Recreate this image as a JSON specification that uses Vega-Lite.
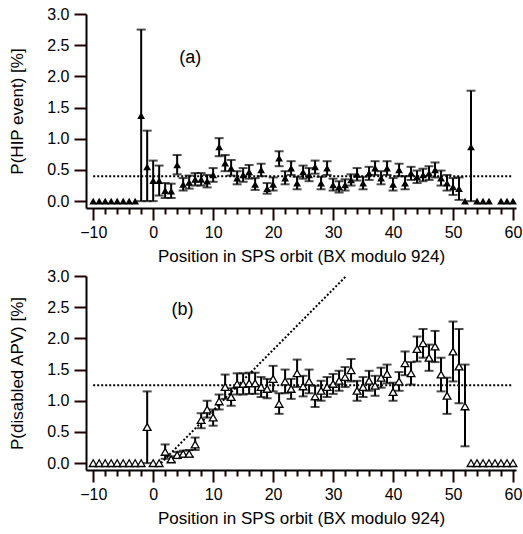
{
  "$schema": "https://vega.github.io/schema/vega-lite/v6.json",
  "padding": {"left": 8, "top": 6, "right": 5, "bottom": 5},
  "spacing": 4,
  "background": "white",
  "config": {
    "view": {"stroke": null},
    "font": "Liberation Sans",
    "axis": {
      "domainColor": "black", "domainWidth": 2, "tickColor": "#220000", "tickWidth": 2, "ticks": true, "tickOpacity": 1,
      "labelColor": "black", "titleColor": "black", "labelFontSize": 16, "titleFontSize": 17,
      "titleFontWeight": "normal", "grid": false, "labelFont": "Liberation Sans", "titleFont": "Liberation Sans", "labelOverlap": false
    }
  },
  "datasets": {
    "a": [
      {"x": -10, "v": 0}, {"x": -9, "v": 0}, {"x": -8, "v": 0}, {"x": -7, "v": 0}, {"x": -6, "v": 0}, {"x": -5, "v": 0}, {"x": -4, "v": 0}, {"x": -3, "v": 0},
      {"x": -2, "v": 1.37, "lo": 0, "hi": 2.75},
      {"x": -1, "v": 0.55, "lo": 0, "hi": 1.13},
      {"x": 0, "v": 0.33, "lo": 0, "hi": 0.65},
      {"x": 1, "v": 0.33, "lo": 0.09, "hi": 0.57},
      {"x": 2, "v": 0.17, "lo": 0.05, "hi": 0.29},
      {"x": 3, "v": 0.16, "lo": 0.05, "hi": 0.28},
      {"x": 4, "v": 0.58, "lo": 0.43, "hi": 0.74},
      {"x": 5, "v": 0.27, "lo": 0.17, "hi": 0.37},
      {"x": 6, "v": 0.30, "lo": 0.20, "hi": 0.41},
      {"x": 7, "v": 0.35, "lo": 0.25, "hi": 0.45},
      {"x": 8, "v": 0.35, "lo": 0.25, "hi": 0.45},
      {"x": 9, "v": 0.32, "lo": 0.22, "hi": 0.42},
      {"x": 10, "v": 0.42, "lo": 0.31, "hi": 0.53},
      {"x": 11, "v": 0.87, "lo": 0.72, "hi": 1.01},
      {"x": 12, "v": 0.61, "lo": 0.48, "hi": 0.74},
      {"x": 13, "v": 0.53, "lo": 0.41, "hi": 0.66},
      {"x": 14, "v": 0.37, "lo": 0.27, "hi": 0.48},
      {"x": 15, "v": 0.42, "lo": 0.31, "hi": 0.53},
      {"x": 16, "v": 0.47, "lo": 0.36, "hi": 0.58},
      {"x": 17, "v": 0.27, "lo": 0.18, "hi": 0.37},
      {"x": 18, "v": 0.50, "lo": 0.40, "hi": 0.60},
      {"x": 19, "v": 0.20, "lo": 0.12, "hi": 0.29},
      {"x": 20, "v": 0.27, "lo": 0.17, "hi": 0.38},
      {"x": 21, "v": 0.69, "lo": 0.56, "hi": 0.80},
      {"x": 22, "v": 0.37, "lo": 0.27, "hi": 0.48},
      {"x": 23, "v": 0.53, "lo": 0.42, "hi": 0.64},
      {"x": 24, "v": 0.29, "lo": 0.19, "hi": 0.39},
      {"x": 25, "v": 0.47, "lo": 0.36, "hi": 0.57},
      {"x": 26, "v": 0.42, "lo": 0.32, "hi": 0.53},
      {"x": 27, "v": 0.55, "lo": 0.44, "hi": 0.65},
      {"x": 28, "v": 0.29, "lo": 0.19, "hi": 0.39},
      {"x": 29, "v": 0.53, "lo": 0.42, "hi": 0.64},
      {"x": 30, "v": 0.26, "lo": 0.17, "hi": 0.36},
      {"x": 31, "v": 0.23, "lo": 0.14, "hi": 0.32},
      {"x": 32, "v": 0.26, "lo": 0.17, "hi": 0.35},
      {"x": 33, "v": 0.34, "lo": 0.25, "hi": 0.43},
      {"x": 34, "v": 0.43, "lo": 0.33, "hi": 0.53},
      {"x": 35, "v": 0.29, "lo": 0.19, "hi": 0.39},
      {"x": 36, "v": 0.45, "lo": 0.34, "hi": 0.55},
      {"x": 37, "v": 0.53, "lo": 0.42, "hi": 0.64},
      {"x": 38, "v": 0.37, "lo": 0.27, "hi": 0.48},
      {"x": 39, "v": 0.53, "lo": 0.42, "hi": 0.64},
      {"x": 40, "v": 0.27, "lo": 0.17, "hi": 0.37},
      {"x": 41, "v": 0.50, "lo": 0.40, "hi": 0.60},
      {"x": 42, "v": 0.29, "lo": 0.19, "hi": 0.40},
      {"x": 43, "v": 0.45, "lo": 0.34, "hi": 0.55},
      {"x": 44, "v": 0.39, "lo": 0.29, "hi": 0.49},
      {"x": 45, "v": 0.42, "lo": 0.32, "hi": 0.52},
      {"x": 46, "v": 0.45, "lo": 0.34, "hi": 0.56},
      {"x": 47, "v": 0.50, "lo": 0.38, "hi": 0.62},
      {"x": 48, "v": 0.37, "lo": 0.25, "hi": 0.49},
      {"x": 49, "v": 0.29, "lo": 0.17, "hi": 0.42},
      {"x": 50, "v": 0.23, "lo": 0.10, "hi": 0.37},
      {"x": 51, "v": 0.20, "lo": 0.02, "hi": 0.38},
      {"x": 52, "v": 0},
      {"x": 53, "v": 0.87, "lo": 0, "hi": 1.77},
      {"x": 54, "v": 0}, {"x": 55, "v": 0}, {"x": 56, "v": 0}, {"x": 58, "v": 0}, {"x": 59, "v": 0}, {"x": 60, "v": 0}
    ],
    "b": [
      {"x": -10, "v": 0}, {"x": -9, "v": 0}, {"x": -8, "v": 0}, {"x": -7, "v": 0}, {"x": -6, "v": 0}, {"x": -5, "v": 0}, {"x": -4, "v": 0}, {"x": -3, "v": 0}, {"x": -2, "v": 0},
      {"x": -1, "v": 0.58, "lo": 0, "hi": 1.15},
      {"x": 0, "v": 0}, {"x": 1, "v": 0},
      {"x": 2, "v": 0.18, "lo": 0.07, "hi": 0.30},
      {"x": 3, "v": 0.06, "lo": 0.02, "hi": 0.11},
      {"x": 4, "v": 0.13, "lo": 0.08, "hi": 0.18},
      {"x": 5, "v": 0.15, "lo": 0.10, "hi": 0.20},
      {"x": 6, "v": 0.15, "lo": 0.10, "hi": 0.21},
      {"x": 7, "v": 0.30, "lo": 0.21, "hi": 0.41},
      {"x": 8, "v": 0.69, "lo": 0.56, "hi": 0.80},
      {"x": 9, "v": 0.86, "lo": 0.73, "hi": 1.00},
      {"x": 10, "v": 0.73, "lo": 0.60, "hi": 0.86},
      {"x": 11, "v": 0.99, "lo": 0.86, "hi": 1.10},
      {"x": 12, "v": 1.22, "lo": 1.03, "hi": 1.42},
      {"x": 13, "v": 1.06, "lo": 0.92, "hi": 1.20},
      {"x": 14, "v": 1.27, "lo": 1.10, "hi": 1.44},
      {"x": 15, "v": 1.27, "lo": 1.10, "hi": 1.44},
      {"x": 16, "v": 1.28, "lo": 1.11, "hi": 1.45},
      {"x": 17, "v": 1.28, "lo": 1.11, "hi": 1.45},
      {"x": 18, "v": 1.22, "lo": 1.06, "hi": 1.38},
      {"x": 19, "v": 1.19, "lo": 1.04, "hi": 1.35},
      {"x": 20, "v": 1.35, "lo": 1.15, "hi": 1.56},
      {"x": 21, "v": 0.95, "lo": 0.79, "hi": 1.12},
      {"x": 22, "v": 1.31, "lo": 1.12, "hi": 1.50},
      {"x": 23, "v": 1.19, "lo": 1.03, "hi": 1.35},
      {"x": 24, "v": 1.44, "lo": 1.22, "hi": 1.66},
      {"x": 25, "v": 1.23, "lo": 1.07, "hi": 1.40},
      {"x": 26, "v": 1.31, "lo": 1.12, "hi": 1.50},
      {"x": 27, "v": 1.07, "lo": 0.90, "hi": 1.24},
      {"x": 28, "v": 1.16, "lo": 1.00, "hi": 1.32},
      {"x": 29, "v": 1.22, "lo": 1.06, "hi": 1.38},
      {"x": 30, "v": 1.27, "lo": 1.11, "hi": 1.43},
      {"x": 31, "v": 1.32, "lo": 1.16, "hi": 1.48},
      {"x": 32, "v": 1.38, "lo": 1.22, "hi": 1.54},
      {"x": 33, "v": 1.49, "lo": 1.31, "hi": 1.67},
      {"x": 34, "v": 1.16, "lo": 1.00, "hi": 1.32},
      {"x": 35, "v": 1.22, "lo": 1.06, "hi": 1.38},
      {"x": 36, "v": 1.32, "lo": 1.16, "hi": 1.48},
      {"x": 37, "v": 1.24, "lo": 1.08, "hi": 1.40},
      {"x": 38, "v": 1.37, "lo": 1.21, "hi": 1.53},
      {"x": 39, "v": 1.43, "lo": 1.28, "hi": 1.58},
      {"x": 40, "v": 1.14, "lo": 1.00, "hi": 1.29},
      {"x": 41, "v": 1.31, "lo": 1.16, "hi": 1.46},
      {"x": 42, "v": 1.60, "lo": 1.41, "hi": 1.79},
      {"x": 43, "v": 1.44, "lo": 1.26, "hi": 1.62},
      {"x": 44, "v": 1.83, "lo": 1.63, "hi": 2.03},
      {"x": 45, "v": 1.92, "lo": 1.69, "hi": 2.15},
      {"x": 46, "v": 1.69, "lo": 1.48, "hi": 1.90},
      {"x": 47, "v": 1.87, "lo": 1.62, "hi": 2.12},
      {"x": 48, "v": 1.42, "lo": 1.15, "hi": 1.69},
      {"x": 49, "v": 1.08, "lo": 0.79, "hi": 1.37},
      {"x": 50, "v": 1.79, "lo": 1.31, "hi": 2.27},
      {"x": 51, "v": 1.55, "lo": 0.96, "hi": 2.15},
      {"x": 52, "v": 0.91, "lo": 0.27, "hi": 1.58},
      {"x": 53, "v": 0}, {"x": 54, "v": 0}, {"x": 55, "v": 0}, {"x": 56, "v": 0}, {"x": 57, "v": 0}, {"x": 58, "v": 0}, {"x": 59, "v": 0}, {"x": 60, "v": 0}
    ],
    "refa": [{"x1": -10, "x2": 60, "y1": 0.4, "y2": 0.4}],
    "refb": [{"x1": -10, "x2": 60, "y1": 1.25, "y2": 1.25}, {"x1": 1.3, "x2": 32.2, "y1": 0, "y2": 3.0}],
    "laba": [{"x": 6.2, "y": 2.3, "t": "(a)"}],
    "labb": [{"x": 4.9, "y": 2.45, "t": "(b)"}]
  },
  "vconcat": [
    {
      "width": 430, "height": 194,
      "data": {"name": "a"},
      "encoding": {
        "x": {"field": "x", "type": "quantitative", "scale": {"domain": [-11.2, 60.5], "nice": false, "zero": false},
          "title": "Position in SPS orbit (BX modulo 924)",
          "axis": {"values": [-10,-8,-6,-4,-2,0,2,4,6,8,10,12,14,16,18,20,22,24,26,28,30,32,34,36,38,40,42,44,46,48,50,52,54,56,58,60],
            "labelExpr": "datum.value % 10 === 0 ? datum.label : ''",
            "tickSize": {"condition": {"test": "datum.value % 10 === 0", "value": 12}, "value": 6},
            "labelOverlap": false, "labelPadding": 4, "titlePadding": 8}},
        "y": {"field": "v", "type": "quantitative", "scale": {"domain": [-0.11, 3.0], "nice": false, "zero": false},
          "title": "P(HIP event) [%]",
          "axis": {"values": [0, 0.5, 1, 1.5, 2, 2.5, 3], "format": ".1f", "labelOverlap": false,
            "tickSize": 12, "labelPadding": 5, "titlePadding": 20}}
      },
      "layer": [
        {
          "data": {"name": "refa"},
          "mark": {"type": "rule", "strokeDash": [2, 2], "strokeWidth": 2, "color": "black"},
          "encoding": {
            "x": {"field": "x1", "type": "quantitative"},
            "x2": {"field": "x2"},
            "y": {"field": "y1", "type": "quantitative"},
            "y2": {"field": "y2"}
          }
        },
        {
          "transform": [{"filter": "isValid(datum.hi)"}],
          "mark": {"type": "rule", "strokeWidth": 2, "color": "black"},
          "encoding": {
            "y": {"field": "lo", "type": "quantitative"},
            "y2": {"field": "hi"}
          }
        },
        {
          "transform": [{"filter": "isValid(datum.hi)"}],
          "mark": {"type": "tick", "orient": "horizontal", "size": 9, "thickness": 2, "color": "black"},
          "encoding": {"y": {"field": "hi", "type": "quantitative"}}
        },
        {
          "transform": [{"filter": "isValid(datum.hi)"}],
          "mark": {"type": "tick", "orient": "horizontal", "size": 9, "thickness": 2, "color": "black"},
          "encoding": {"y": {"field": "lo", "type": "quantitative"}}
        },
        {
          "mark": {"type": "point", "shape": "triangle-up", "filled": true, "color": "black", "size": 60, "opacity": 1}
        },
        {
          "data": {"name": "laba"},
          "mark": {"type": "text", "fontSize": 18, "font": "Liberation Sans", "color": "black"},
          "encoding": {
            "x": {"field": "x", "type": "quantitative"},
            "y": {"field": "y", "type": "quantitative"},
            "text": {"field": "t"}
          }
        }
      ]
    },
    {
      "width": 430, "height": 194,
      "data": {"name": "b"},
      "encoding": {
        "x": {"field": "x", "type": "quantitative", "scale": {"domain": [-11.2, 60.5], "nice": false, "zero": false},
          "title": "Position in SPS orbit (BX modulo 924)",
          "axis": {"values": [-10,-8,-6,-4,-2,0,2,4,6,8,10,12,14,16,18,20,22,24,26,28,30,32,34,36,38,40,42,44,46,48,50,52,54,56,58,60],
            "labelExpr": "datum.value % 10 === 0 ? datum.label : ''",
            "tickSize": {"condition": {"test": "datum.value % 10 === 0", "value": 12}, "value": 6},
            "labelOverlap": false, "labelPadding": 4, "titlePadding": 8}},
        "y": {"field": "v", "type": "quantitative", "scale": {"domain": [-0.11, 3.0], "nice": false, "zero": false},
          "title": "P(disabled APV) [%]",
          "axis": {"values": [0, 0.5, 1, 1.5, 2, 2.5, 3], "format": ".1f", "labelOverlap": false,
            "tickSize": 12, "labelPadding": 5, "titlePadding": 20}}
      },
      "layer": [
        {
          "data": {"name": "refb"},
          "mark": {"type": "rule", "strokeDash": [2, 2], "strokeWidth": 2, "color": "black"},
          "encoding": {
            "x": {"field": "x1", "type": "quantitative"},
            "x2": {"field": "x2"},
            "y": {"field": "y1", "type": "quantitative"},
            "y2": {"field": "y2"}
          }
        },
        {
          "transform": [{"filter": "isValid(datum.hi)"}],
          "mark": {"type": "rule", "strokeWidth": 2, "color": "black"},
          "encoding": {
            "y": {"field": "lo", "type": "quantitative"},
            "y2": {"field": "hi"}
          }
        },
        {
          "transform": [{"filter": "isValid(datum.hi)"}],
          "mark": {"type": "tick", "orient": "horizontal", "size": 9, "thickness": 2, "color": "black"},
          "encoding": {"y": {"field": "hi", "type": "quantitative"}}
        },
        {
          "transform": [{"filter": "isValid(datum.hi)"}],
          "mark": {"type": "tick", "orient": "horizontal", "size": 9, "thickness": 2, "color": "black"},
          "encoding": {"y": {"field": "lo", "type": "quantitative"}}
        },
        {
          "mark": {"type": "point", "shape": "triangle-up", "filled": true, "fill": "white", "stroke": "black", "strokeWidth": 1.3, "size": 60, "opacity": 1}
        },
        {
          "data": {"name": "labb"},
          "mark": {"type": "text", "fontSize": 18, "font": "Liberation Sans", "color": "black"},
          "encoding": {
            "x": {"field": "x", "type": "quantitative"},
            "y": {"field": "y", "type": "quantitative"},
            "text": {"field": "t"}
          }
        }
      ]
    }
  ]
}
